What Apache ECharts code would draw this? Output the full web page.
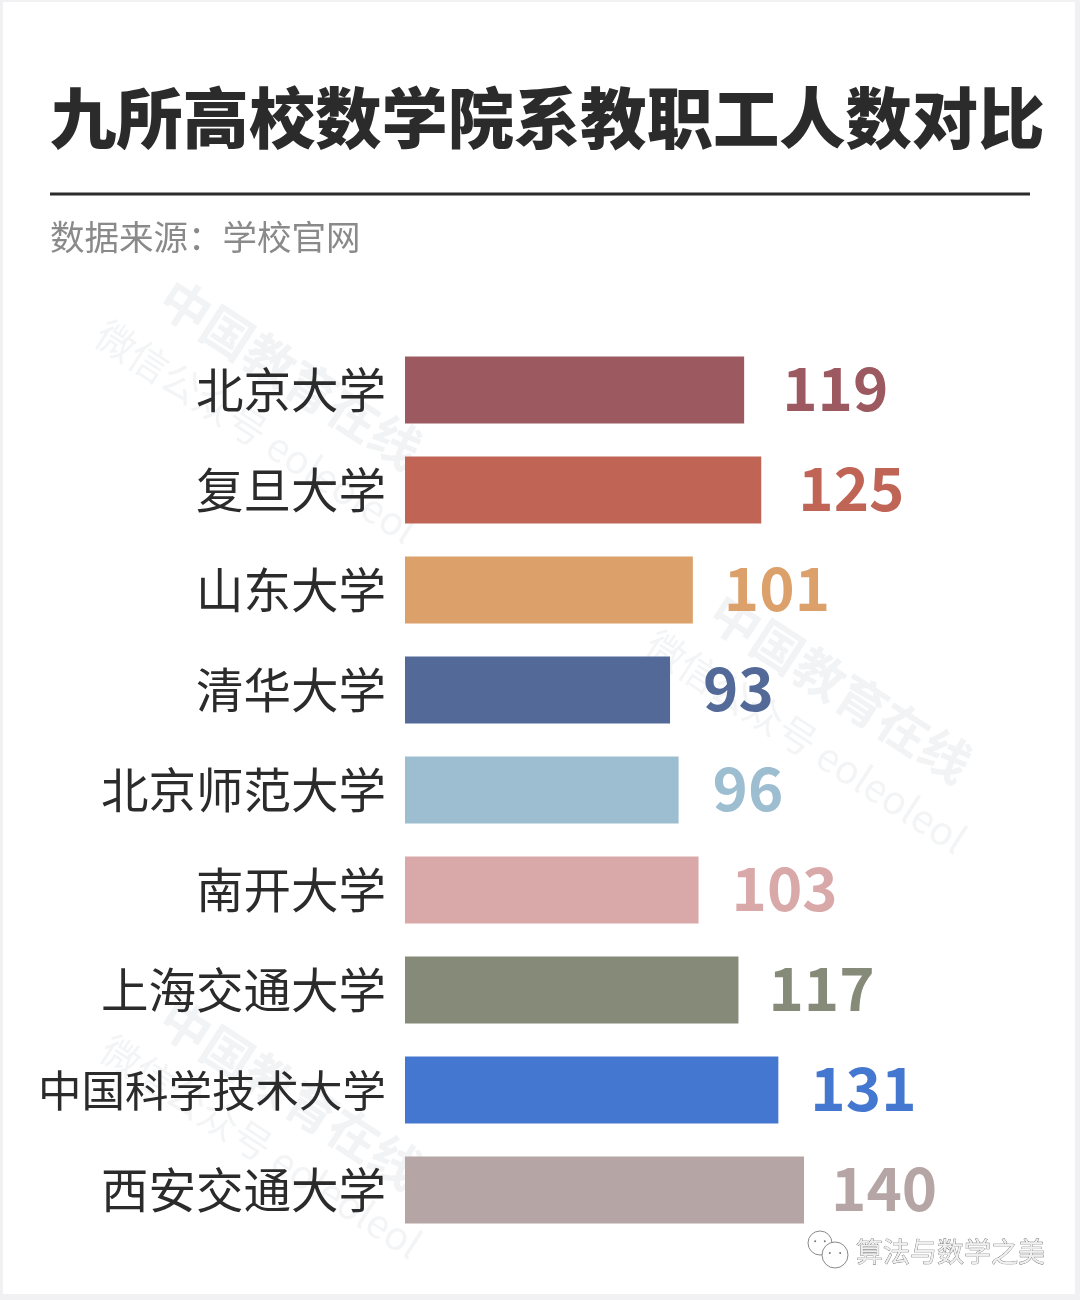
<!DOCTYPE html>
<html>
<head>
<meta charset="utf-8">
<title>九所高校数学院系教职工人数对比</title>
<script src="https://cdn.jsdelivr.net/npm/echarts@6/dist/echarts.min.js"></script>
<style>
  html, body { margin: 0; padding: 0; background: #f1f1f3; }
  #chart { width: 1080px; height: 1300px; }
</style>
</head>
<body>
<div id="chart"></div>
<script>
const categories = ['北京大学', '复旦大学', '山东大学', '清华大学', '北京师范大学', '南开大学', '上海交通大学', '中国科学技术大学', '西安交通大学'];
const values = [119, 125, 101, 93, 96, 103, 117, 131, 140];
const barColors = ['#9c5a60', '#c06555', '#dca06b', '#536a98', '#9dbdd0', '#d8a9a8', '#868a78', '#4477cf', '#b5a5a5'];
// the value labels are not evenly spaced from the bars in the original
const labelShift = [4, 3, -3, -1, 0, -1, -4, -2, -7];

const cjk = '"Noto Sans CJK SC", "Noto Sans", sans-serif';
const wmAngle = -33 * Math.PI / 180;

// watermark: big line then small line, both tilted
function watermark(x1, y1, x2, y2) {
  return [
    { type: 'text', x: x1, y: y1, rotation: wmAngle, z: 0, silent: true,
      style: { text: '中国教育在线', fill: '#f2f3f5', font: 'bold 50px ' + cjk, verticalAlign: 'middle' } },
    { type: 'text', x: x2, y: y2, rotation: wmAngle, z: 0, silent: true,
      style: { text: '微信公众号 eoleoleol', fill: '#f3f4f6', font: '39px ' + cjk, verticalAlign: 'middle' } }
  ];
}

// small wechat bubble: outline, two eyes
function bubble(cx, cy, r) {
  return [
    { type: 'circle', shape: { cx: cx, cy: cy, r: r }, silent: true, style: { fill: '#fff', stroke: '#8a8a8a', lineWidth: 1 } },
    { type: 'circle', shape: { cx: cx - r * 0.4, cy: cy - r * 0.15, r: 1 }, silent: true, style: { fill: '#777' } },
    { type: 'circle', shape: { cx: cx + r * 0.4, cy: cy - r * 0.15, r: 1 }, silent: true, style: { fill: '#777' } }
  ];
}

const chart = echarts.init(document.getElementById('chart'), null, { renderer: 'canvas' });
chart.setOption({
  backgroundColor: '#f1f1f3',
  animation: false,
  title: [
    {
      text: '九所高校数学院系教职工人数对比',
      left: 50, top: 118,
      padding: 0,
      textVerticalAlign: 'middle',
      textStyle: { fontFamily: cjk, fontSize: 66.3, fontWeight: 900, color: '#2b2b2b' }
    },
    {
      text: '数据来源：学校官网',
      left: 50, top: 237,
      padding: 0,
      textVerticalAlign: 'middle',
      textStyle: { fontFamily: cjk, fontSize: 34.5, fontWeight: 'normal', color: '#8a8a8a' }
    }
  ],
  graphic: [
    { type: 'rect', shape: { x: 3, y: 2, width: 1072, height: 1292 }, z: -1, silent: true, style: { fill: '#fff' } },
    ...watermark(165, 292, 100, 330),
    ...watermark(715, 606, 650, 640),
    ...watermark(165, 1012, 105, 1045),
    { type: 'rect', shape: { x: 50, y: 192.5, width: 980, height: 3 }, silent: true, style: { fill: '#2b2b2b' } },
    // wechat mark and account name, bottom right
    ...bubble(820, 1243, 12),
    ...bubble(835, 1255, 13),
    { type: 'text', x: 856, y: 1252, silent: true,
      style: { text: '算法与数学之美', fill: '#efefef', stroke: '#666', lineWidth: 0.7, font: '27px ' + cjk, verticalAlign: 'middle' } }
  ],
  grid: { left: 405, top: 340, width: 570, height: 900, containLabel: false },
  xAxis: { type: 'value', min: 0, max: 200, show: false },
  yAxis: {
    type: 'category',
    inverse: true,
    data: categories,
    axisLine: { show: false },
    axisTick: { show: false },
    axisLabel: {
      margin: 19,
      fontFamily: cjk,
      fontSize: 47.5,
      color: '#2b2b2b',
      // longest name is squeezed in the original
      formatter: v => v.length > 6 ? '{tight|' + v + '}' : v,
      rich: { tight: { fontFamily: cjk, fontSize: 43.5, color: '#2b2b2b' } }
    }
  },
  series: [{
    type: 'bar',
    barWidth: 67,
    z: 3,
    data: values.map((v, i) => ({
      value: v,
      itemStyle: { color: barColors[i] },
      label: { color: barColors[i], offset: [labelShift[i], -2] }
    })),
    label: {
      show: true,
      position: 'right',
      distance: 34,
      fontFamily: cjk,
      fontSize: 60,
      fontWeight: 'bold'
    }
  }]
});
</script>
</body>
</html>
